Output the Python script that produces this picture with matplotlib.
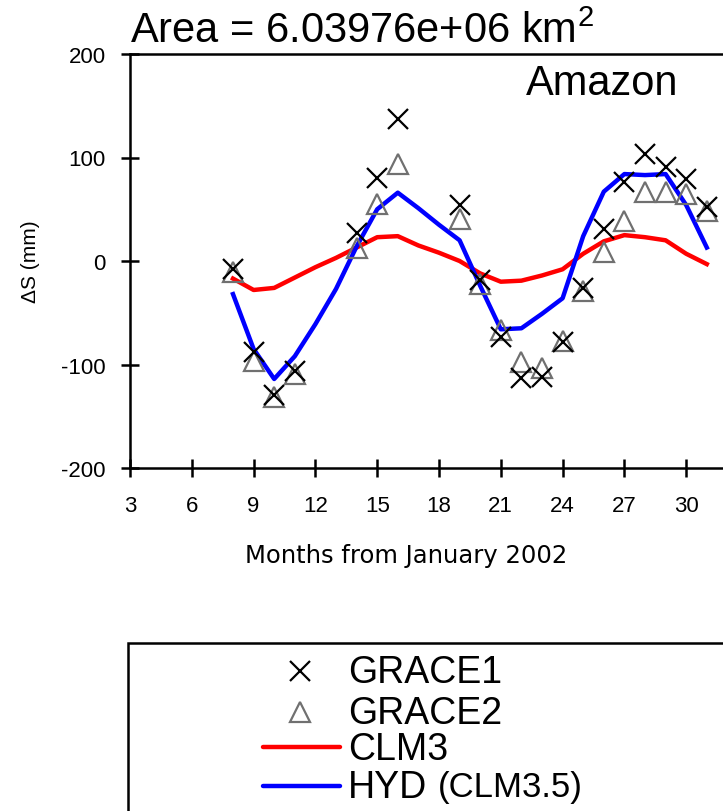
import matplotlib
matplotlib.use('Agg')
import matplotlib.pyplot as plt
from matplotlib.lines import Line2D
from matplotlib.patches import Rectangle

plt.rcParams['font.family'] = ['Liberation Sans', 'DejaVu Sans']
plt.rcParams['mathtext.default'] = 'regular'
plt.rcParams['axes.unicode_minus'] = False

# months since Jan 2002
months = [8, 9, 10, 11, 12, 13, 14, 15, 16, 17, 18, 19, 20, 21, 22, 23, 24, 25, 26, 27, 28, 29, 30, 31]
grace_months = [8, 9, 10, 11, 14, 15, 16, 19, 20, 21, 22, 23, 24, 25, 26, 27, 28, 29, 30, 31]

grace1 = [-8, -88, -129, -106, 27, 80, 137, 54, -18, -73, -113, -112, -78, -26, 31, 76, 103, 91, 79, 52]
grace2 = [-11, -97, -131, -109, 13, 55, 94, 41, -22, -67, -98, -103, -77, -29, 9, 39, 67, 67, 65, 48]
clm3 = [-17, -28, -26, -16, -6, 3, 13, 23, 24, 15, 8, 0, -12, -20, -19, -14, -8, 7, 19, 25, 23, 20, 7, -3]
hyd = [-32, -85, -114, -92, -61, -27, 14, 50, 66, 51, 35, 20, -24, -66, -65, -51, -36, 24, 67, 84, 83, 84, 54, 13]

xticks = [3, 6, 9, 12, 15, 18, 21, 24, 27, 30]
yticks = [-200, -100, 0, 100, 200]
labels = ['GRACE1', 'GRACE2', 'CLM3', 'HYD']

W, H = 723, 812
fig = plt.figure(figsize=(W / 100, H / 100), dpi=100)

# axes run past the right edge of the figure
ax = fig.add_axes([130 / W, 1 - 469 / H, 618 / W, 414 / H])
ax.set_xlim(3, 33)
ax.set_ylim(-200, 200)

ax.plot(months, clm3, color='#ff0000', lw=3.2, zorder=2)
ax.plot(months, hyd, color='#0000ff', lw=3.2, zorder=2)
ax.plot(grace_months, grace2, ls='none', marker='^', ms=15, mfc='none',
        mec='#707070', mew=1.6, zorder=3)
ax.plot(grace_months, grace1, ls='none', marker='x', ms=15, color='black',
        mew=1.6, zorder=4)

for s in ['left', 'bottom', 'top']:
    ax.spines[s].set_linewidth(1.8)
ax.spines['right'].set_visible(False)
ax.set_xticks(xticks)
ax.set_yticks(yticks)
ax.tick_params(direction='inout', length=13, width=1.8, labelsize=16)
ax.tick_params(axis='x', pad=13)
ax.tick_params(axis='y', pad=11)

ax.text(0.0, 1.008, 'Area = 6.03976e+06 km$^{2}$', transform=ax.transAxes,
        fontsize=30, ha='left', va='bottom')
fig.text(678 / W, 1 - 84 / H, 'Amazon', fontsize=30, ha='right', va='center')
fig.text(30 / W, 1 - 262 / H, '\u0394S (mm)', rotation=90, fontsize=15,
         ha='center', va='center')
fig.text(406 / W, 1 - 556 / H, 'Months from January 2002', fontsize=17.5,
         ha='center', va='center', family=['DejaVu Sans'])

# legend box, cut off at the figure edge
fig.patches.append(Rectangle((128 / W, -0.1), 1.0, 1 - 644 / H + 0.1,
                             transform=fig.transFigure, fill=False,
                             lw=1.8, ec='black'))
rows = [673, 714, 750, 788]
fig.add_artist(Line2D([300 / W], [1 - 672 / H], marker='x', ms=14,
                      color='black', mew=1.6, ls='none'))
fig.add_artist(Line2D([300 / W], [1 - 713 / H], marker='^', ms=14,
                      mfc='none', mec='#707070', mew=1.6, ls='none'))
fig.add_artist(Line2D([263 / W, 340 / W], [1 - 748 / H] * 2,
                      color='#ff0000', lw=3.2, solid_capstyle='round'))
fig.add_artist(Line2D([263 / W, 340 / W], [1 - 787 / H] * 2,
                      color='#0000ff', lw=3.2, solid_capstyle='round'))
for lab, r in zip(labels, rows):
    fig.text(348 / W, 1 - r / H, lab, fontsize=27, ha='left', va='center')
fig.text(438 / W, 1 - 788 / H, '(CLM3.5)', fontsize=25, ha='left', va='center')

fig.savefig('out.png', dpi=100)
